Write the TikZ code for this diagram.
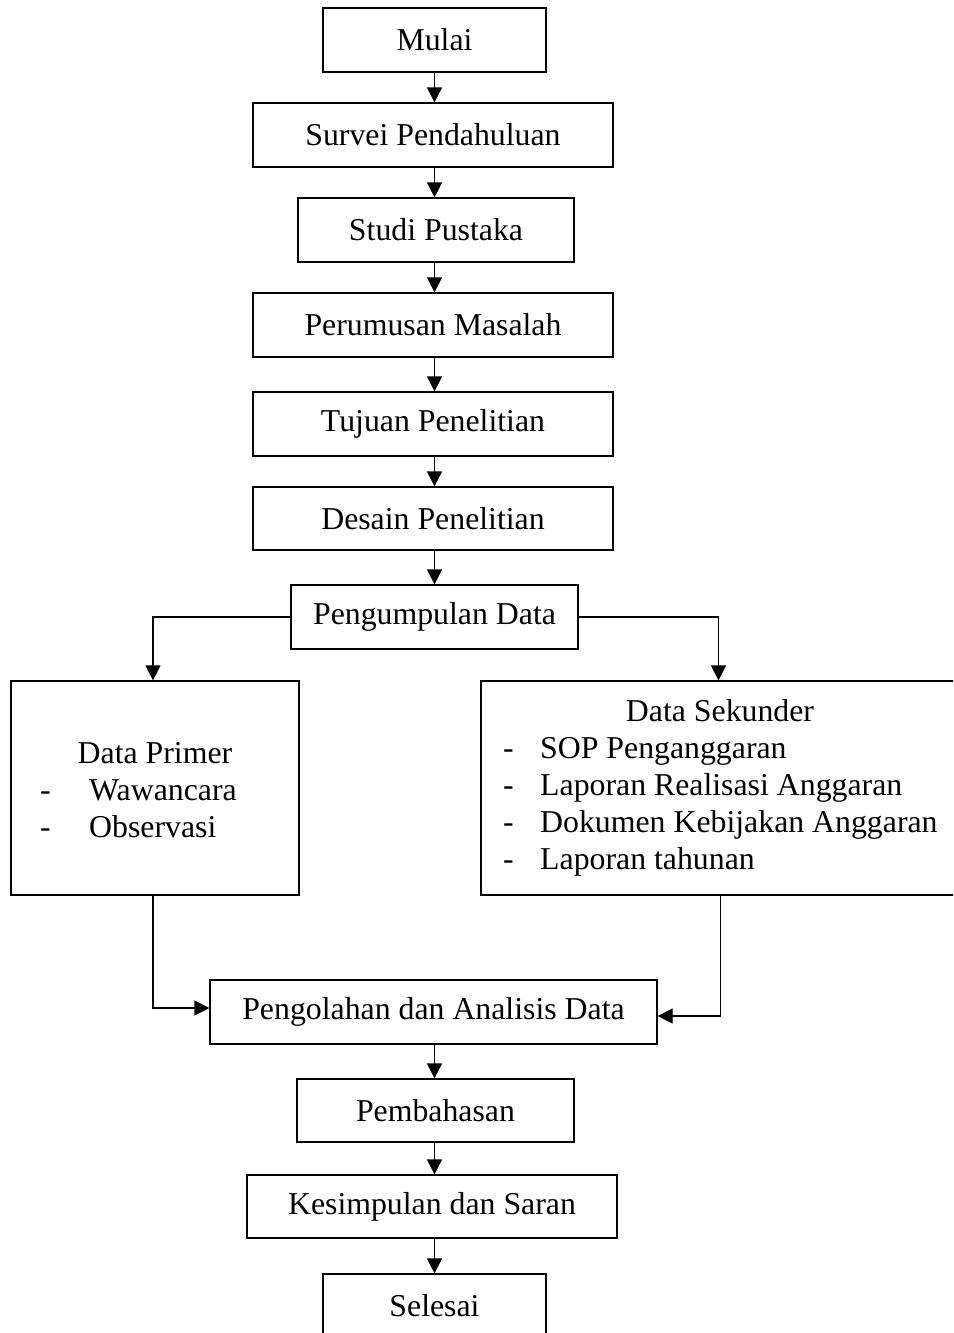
\documentclass[tikz,border=0pt]{standalone}
\usepackage{fontspec}
\setmainfont{Liberation Serif}
\usetikzlibrary{arrows.meta}
\begin{document}
\begin{tikzpicture}[x=1pt,y=-1pt,
  box/.style={draw, line width=1.2pt, inner sep=0pt, font=\fontsize{31.8}{38}\selectfont},
  arr/.style={-{Triangle[length=15pt,width=15pt]}, line width=1.2pt},
  txt/.style={inner sep=0pt, anchor=base west, font=\fontsize{31.8}{38}\selectfont},
  ttl/.style={inner sep=0pt, anchor=base, font=\fontsize{31.8}{38}\selectfont}]
\useasboundingbox (0,0) rectangle (953,1333);
\clip (0,0) rectangle (953,1333);
% main column
\node[box, minimum width=223pt, minimum height=64pt] (mulai)   at (434.5,40)   {Mulai};
\node[box, minimum width=360pt, minimum height=64pt] (survei)  at (433,135)    {Survei Pendahuluan};
\node[box, minimum width=276pt, minimum height=64pt] (studi)   at (436,230)    {Studi Pustaka};
\node[box, minimum width=360pt, minimum height=64pt] (rumusan) at (433,325)    {Perumusan Masalah};
\node[box, minimum width=360pt, minimum height=64pt] (tujuan)  at (433,424)    {Tujuan Penelitian};
\node[box, minimum width=360pt, minimum height=63pt] (desain)  at (433,518.5)  {Desain Penelitian};
\node[box, minimum width=287pt, minimum height=64pt] (kumpul)  at (434.5,617)  {Pengumpulan Data};
% branches
\node[box, minimum width=288pt, minimum height=214pt] (primer)   at (155,788)   {};
\node[box, minimum width=489pt, minimum height=214pt] (sekunder) at (725.5,788) {};
\node[ttl] (primerT) at (155,763) {Data Primer};
\node[txt] (p1d) at (40,800) {-};
\node[txt] (p1)  at (89,800) {Wawancara};
\node[txt] (p2d) at (40,837) {-};
\node[txt] (p2)  at (89,837) {Observasi};
\node[ttl] (sekT) at (720,721) {Data Sekunder};
\node[txt] (s1d) at (503,758) {-};
\node[txt] (s1)  at (540,758) {SOP Penganggaran};
\node[txt] (s2d) at (503,795) {-};
\node[txt] (s2)  at (540,795) {Laporan Realisasi Anggaran};
\node[txt] (s3d) at (503,832) {-};
\node[txt] (s3)  at (540,832) {Dokumen Kebijakan Anggaran};
\node[txt] (s4d) at (503,869) {-};
\node[txt] (s4)  at (540,869) {Laporan tahunan};
% lower column
\node[box, minimum width=447pt, minimum height=64pt] (olah)    at (433.5,1012) {Pengolahan dan Analisis Data};
\node[box, minimum width=277pt, minimum height=63pt] (bahas)   at (435.5,1110.5) {Pembahasan};
\node[box, minimum width=370pt, minimum height=63pt] (simpul)  at (432,1206.5) {Kesimpulan dan Saran};
\node[box, minimum width=223pt, minimum height=64pt] (selesai) at (434.5,1306) {Selesai};
% connectors
\draw[arr] (mulai.south) -- (mulai.south |- survei.north);
\draw[arr] (survei.south -| mulai.south) -- (mulai.south |- studi.north);
\draw[arr] (studi.south -| mulai.south) -- (mulai.south |- rumusan.north);
\draw[arr] (rumusan.south -| mulai.south) -- (mulai.south |- tujuan.north);
\draw[arr] (tujuan.south -| mulai.south) -- (mulai.south |- desain.north);
\draw[arr] (desain.south -| mulai.south) -- (mulai.south |- kumpul.north);
\draw[arr] (kumpul.west) -| ([xshift=-2pt]primer.north);
\draw[arr] (kumpul.east) -| ([xshift=-7pt]sekunder.north);
\draw[arr] ([xshift=-2pt]primer.south) |- ([yshift=4pt]olah.west);
\draw[arr] ([xshift=-5pt]sekunder.south) |- ([yshift=-4pt]olah.east);
\draw[arr] (olah.south -| mulai.south) -- (mulai.south |- bahas.north);
\draw[arr] (bahas.south -| mulai.south) -- (mulai.south |- simpul.north);
\draw[arr] (simpul.south -| mulai.south) -- (mulai.south |- selesai.north);
\end{tikzpicture}
\end{document}
